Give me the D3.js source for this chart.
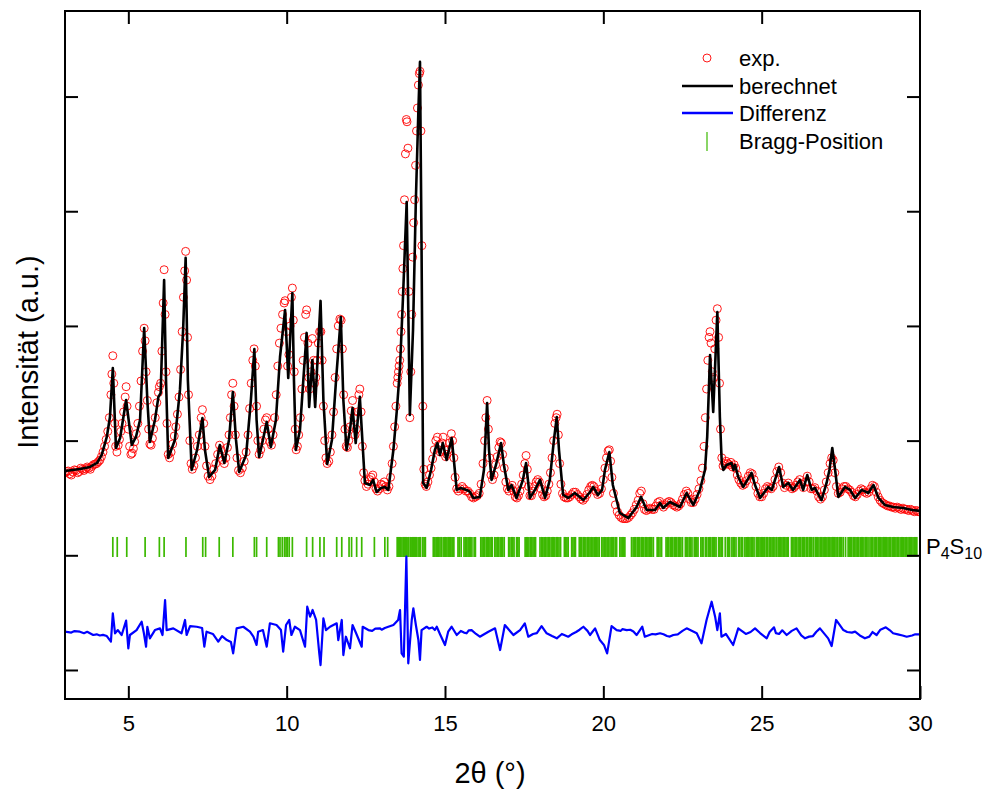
<!DOCTYPE html>
<html>
<head>
<meta charset="utf-8">
<script src="https://cdn.jsdelivr.net/npm/d3@7"></script>
<style>
  body { margin: 0; background: #fff; }
  svg { display: block; }
  text { font-family: "Liberation Sans", Arial, sans-serif; fill: #000; }
</style>
</head>
<body>
<svg id="chart" width="990" height="793"></svg>
<script>
// ---- Data: 2θ (°) vs. intensity (counts, arbitrary units) ----

// x-axis tick labels and y-axis tick values (y labels not shown)
const xTicks = [5, 10, 15, 20, 25, 30];
const yTicks = [0, 1000, 2000, 3000, 4000, 5000];

// Measured pattern (exp.)
const observed = [
  [3.00,1720],[3.05,1730],[3.10,1735],[3.15,1710],[3.20,1700],[3.25,1725],[3.30,1745],[3.35,1740],
  [3.40,1720],[3.45,1730],[3.50,1760],[3.55,1750],[3.60,1740],[3.65,1755],[3.70,1770],[3.75,1760],
  [3.80,1750],[3.85,1775],[3.90,1790],[3.95,1795],[4.00,1800],[4.05,1815],[4.10,1830],[4.15,1860],
  [4.20,1900],[4.25,1950],[4.30,2010],
  [4.35,2080],[4.40,2200],[4.45,2400],[4.48,2580],[4.51,2740],[4.54,2500],[4.57,2150],[4.60,1950],
  [4.64,1900],[4.68,1960],[4.72,2010],[4.76,2080],[4.80,2150],[4.85,2250],[4.90,2380],[4.93,2470],
  [4.96,2300],[5.00,2100],[5.04,1950],[5.08,1880],[5.12,1890],[5.16,1930],[5.20,1990],[5.25,2060],
  [5.30,2150],[5.35,2300],[5.40,2520],[5.45,2780],[5.50,2980],[5.53,2870],[5.56,2600],[5.60,2350],
  [5.64,2100],[5.68,1970],[5.72,1960],[5.76,2020],[5.80,2100],[5.85,2200],[5.90,2330],[5.95,2420],
  [5.98,2470],[6.02,2500],[6.06,2780],[6.10,3200],[6.13,3490],[6.16,3100],[6.19,2600],[6.22,2150],
  [6.26,1880],[6.30,1850],[6.35,1900],[6.40,1970],[6.45,2040],[6.50,2120],[6.55,2230],[6.60,2380],
  [6.65,2620],[6.70,2950],[6.74,3250],[6.78,3480],[6.81,3650],[6.84,3400],[6.87,2900],[6.90,2400],
  [6.94,2000],[6.98,1800],[7.02,1750],[7.07,1780],[7.12,1850],[7.18,1950],[7.24,2050],[7.30,2200],
  [7.34,2270],[7.38,2150],[7.42,1950],[7.47,1780],[7.52,1690],[7.58,1660],[7.64,1690],[7.70,1750],
  [7.76,1800],[7.82,1880],[7.88,1960],[7.93,1920],[7.98,1830],[8.03,1800],[8.08,1850],[8.13,1940],
  [8.18,2050],[8.22,2200],[8.26,2400],[8.30,2500],[8.34,2300],[8.38,2050],[8.43,1850],[8.48,1740],
  [8.54,1720],[8.60,1760],[8.66,1820],[8.72,1900],[8.78,2050],[8.83,2280],[8.88,2500],[8.93,2700],
  [8.97,2800],[9.01,2650],[9.05,2300],[9.09,2000],[9.13,1880],[9.18,1920],[9.23,2000],[9.28,2100],
  [9.33,2180],[9.37,2200],[9.42,2100],[9.47,1990],[9.52,1960],[9.57,2050],[9.62,2200],[9.67,2400],
  [9.72,2650],[9.77,2850],[9.82,2980],[9.87,3100],[9.92,3200],[9.95,3220],[9.99,2950],[10.03,2650],
  [10.07,2750],[10.11,3000],[10.15,3250],[10.18,3330],[10.21,3050],[10.24,2600],[10.27,2100],[10.30,1920],
  [10.34,1950],[10.38,2050],[10.43,2200],[10.48,2450],[10.52,2700],[10.56,2900],[10.60,3100],[10.63,3140],
  [10.67,2850],[10.70,2550],[10.73,2450],[10.77,2600],[10.81,2890],[10.85,2700],[10.88,2500],[10.92,2550],
  [10.96,2700],[11.00,2850],[11.04,2950],[11.08,2950],[11.12,2700],[11.16,2300],[11.20,2000],[11.24,1850],
  [11.28,1800],[11.33,1820],[11.38,1900],[11.43,2050],[11.48,2250],[11.53,2550],[11.58,2800],[11.63,3000],
  [11.68,3060],[11.72,3050],[11.76,2800],[11.80,2400],[11.84,2100],[11.88,1950],[11.92,1940],[11.96,2000],
  [12.00,2120],[12.04,2260],[12.08,2350],[12.12,2200],[12.16,2050],[12.20,2100],[12.24,2250],[12.28,2400],
  [12.31,2450],[12.35,2250],[12.39,1950],[12.43,1720],[12.47,1650],[12.52,1600],[12.57,1620],[12.62,1660],
  [12.67,1680],[12.72,1700],[12.77,1640],[12.82,1580],[12.87,1560],[12.93,1580],[12.98,1620],[13.03,1610],
  [13.08,1640],[13.13,1600],[13.18,1570],[13.23,1600],[13.28,1680],[13.33,1800],[13.37,1950],[13.41,2120],
  [13.45,2300],[13.49,2500],[13.51,2550],[13.53,2600],[13.55,2650],[13.57,2700],[13.59,2800],[13.61,2950],
  [13.63,3100],[13.65,3300],[13.67,3500],[13.69,3700],[13.72,4100],[13.75,4500],[13.78,4800],[13.80,4780],
  [13.83,4550],[13.86,3300],[13.89,2200],[13.92,2600],[13.95,3100],
  [13.98,3600],[14.01,3900],[14.04,4100],[14.07,4400],[14.10,4700],[14.13,4900],[14.16,5100],[14.19,5200],
  [14.21,5220],[14.24,4700],[14.27,3700],[14.30,2300],[14.33,1750],[14.37,1620],[14.41,1600],[14.46,1640],
  [14.51,1700],[14.56,1760],[14.61,1840],[14.66,1920],[14.71,2000],[14.76,2030],[14.80,1960],[14.85,1900],
  [14.90,1980],[14.94,2030],[14.98,1920],[15.02,1860],[15.06,1880],[15.10,1920],[15.15,1980],[15.20,2060],
  [15.24,2000],[15.28,1850],[15.32,1680],[15.37,1580],[15.42,1560],[15.48,1580],[15.54,1600],[15.60,1580],
  [15.66,1560],[15.72,1560],[15.78,1540],[15.84,1510],[15.90,1500],[15.96,1510],[16.02,1520],[16.08,1540],
  [16.14,1620],[16.20,1800],[16.25,2000],[16.29,2200],[16.33,2350],[16.37,2100],[16.41,1850],[16.45,1700],
  [16.50,1660],[16.55,1700],[16.60,1790],[16.65,1860],[16.70,1940],[16.74,1990],[16.78,1980],[16.82,1880],
  [16.87,1760],[16.92,1640],[16.97,1580],[17.02,1560],[17.07,1590],[17.12,1610],[17.17,1560],[17.22,1510],
  [17.27,1500],[17.32,1520],[17.37,1560],[17.42,1620],[17.47,1700],[17.52,1800],[17.56,1870],[17.60,1750],
  [17.64,1600],[17.68,1520],[17.73,1520],[17.78,1560],[17.83,1600],[17.88,1640],[17.93,1660],[17.98,1640],
  [18.03,1580],[18.08,1530],[18.13,1510],[18.18,1520],[18.23,1560],[18.28,1620],[18.33,1720],[18.38,1850],
  [18.43,2000],[18.47,2150],[18.51,2200],[18.54,2230],[18.58,2050],[18.62,1800],[18.66,1620],[18.71,1540],
  [18.76,1510],[18.82,1500],[18.88,1500],[18.94,1510],[19.00,1530],[19.06,1550],[19.12,1550],[19.18,1530],
  [19.24,1510],[19.30,1490],[19.36,1480],[19.42,1500],[19.48,1530],[19.54,1570],[19.60,1600],[19.65,1610],
  [19.70,1600],[19.76,1560],[19.82,1530],[19.88,1540],[19.94,1580],[20.00,1660],[20.05,1760],[20.10,1850],
  [20.15,1910],[20.19,1920],[20.23,1820],[20.27,1680],[20.32,1540],[20.38,1440],[20.44,1380],[20.50,1350],
  [20.56,1330],[20.62,1320],[20.68,1320],[20.74,1320],[20.80,1330],[20.86,1350],[20.92,1370],[20.98,1400],
  [21.04,1440],[21.10,1480],[21.15,1540],[21.20,1560],[21.25,1450],[21.30,1400],[21.36,1390],[21.42,1400],
  [21.48,1410],[21.54,1400],[21.60,1400],[21.66,1430],[21.72,1460],[21.78,1470],[21.84,1440],[21.90,1420],
  [21.96,1440],[22.02,1460],[22.08,1470],[22.14,1460],[22.20,1440],[22.26,1430],[22.32,1420],[22.38,1430],
  [22.44,1450],[22.50,1490],[22.56,1530],[22.62,1560],[22.67,1540],[22.72,1490],[22.78,1460],[22.84,1460],
  [22.90,1490],[22.96,1530],[23.02,1580],[23.08,1650],[23.13,1760],[23.18,1950],[23.22,2200],[23.26,2450],
  [23.30,2700],[23.34,2900],[23.37,2950],[23.40,2850],[23.44,2600],[23.48,2550],[23.52,2800],[23.56,3050],
  [23.60,3150],[23.64,2900],[23.67,2500],[23.70,2100],[23.74,1850],[23.78,1780],[23.83,1800],[23.88,1820],
  [23.93,1800],[23.98,1790],[24.03,1810],[24.08,1770],[24.13,1790],[24.18,1760],[24.23,1700],[24.28,1660],
  [24.34,1630],[24.40,1610],[24.46,1620],[24.52,1650],[24.58,1690],[24.64,1720],[24.70,1710],[24.76,1660],
  [24.82,1600],[24.88,1540],[24.94,1510],[25.00,1510],[25.06,1540],[25.12,1580],[25.18,1600],[25.24,1590],
  [25.30,1580],[25.36,1600],[25.42,1660],[25.48,1730],[25.54,1770],[25.60,1720],[25.66,1630],[25.72,1590],
  [25.78,1610],[25.84,1630],[25.90,1600],[25.96,1580],[26.02,1590],[26.08,1610],[26.14,1640],[26.20,1660],
  [26.26,1620],[26.32,1590],[26.38,1640],[26.44,1690],[26.50,1640],[26.56,1580],[26.62,1580],[26.68,1590],
  [26.74,1560],[26.80,1510],[26.86,1490],[26.92,1510],[26.98,1570],[27.04,1640],[27.10,1720],[27.16,1800],
  [27.21,1850],[27.26,1830],[27.31,1720],[27.36,1600],[27.42,1540],[27.48,1550],[27.54,1580],[27.60,1600],
  [27.66,1600],[27.72,1580],[27.78,1570],[27.84,1550],[27.90,1520],[27.96,1510],[28.02,1530],[28.08,1560],
  [28.14,1580],[28.20,1570],[28.26,1550],[28.32,1540],[28.38,1550],[28.44,1580],[28.50,1610],[28.56,1600],
  [28.62,1550],[28.68,1510],[28.74,1480],[28.80,1460],[28.86,1450],[28.92,1440],[28.98,1430],[29.04,1430],
  [29.10,1420],[29.16,1420],[29.22,1410],[29.28,1420],[29.34,1410],[29.40,1400],[29.46,1410],[29.52,1400],
  [29.58,1400],[29.64,1390],[29.70,1400],[29.76,1390],[29.82,1380],[29.88,1390],[29.94,1380],[30.00,1380]
];

// Refined profile (berechnet)
const calculated = [
  [3.00,1735],[3.47,1753],[3.79,1770],[4.01,1805],[4.16,1875],[4.32,2032],[4.42,2206],[4.51,2633],
  [4.61,1936],[4.74,2023],[4.93,2354],[5.11,1962],[5.24,2032],[5.37,2180],[5.50,2982],[5.60,2354],
  [5.68,1988],[5.84,2180],[5.95,2381],[6.02,2415],[6.13,3401],[6.19,2529],[6.26,1849],[6.47,2006],
  [6.63,2442],[6.73,2965],[6.81,3593],[6.88,2529],[7.00,1744],[7.17,1918],[7.34,2197],[7.42,1918],
  [7.55,1683],[7.74,1744],[7.89,1962],[8.03,1805],[8.18,2006],[8.30,2424],[8.40,2006],[8.50,1727],
  [8.72,1875],[8.87,2354],[8.98,2799],[9.05,2180],[9.13,1857],[9.25,2006],[9.37,2163],[9.50,1945],
  [9.66,2180],[9.79,2729],[9.95,3139],[10.05,2546],[10.18,3287],[10.23,2529],[10.29,1918],[10.42,2093],
  [10.52,2503],[10.63,2939],[10.71,2293],[10.81,2703],[10.90,2293],[10.99,2790],[11.07,3218],[11.16,2354],
  [11.28,1796],[11.43,2006],[11.56,2529],[11.71,3078],[11.79,2354],[11.89,1918],[12.00,2093],[12.08,2285],
  [12.18,1979],[12.31,2381],[12.39,2006],[12.47,1631],[12.63,1613],[12.73,1657],[12.84,1552],[12.98,1587],
  [13.10,1596],[13.21,1570],[13.37,1918],[13.48,2267],[13.58,2642],[13.67,3226],[13.79,4081],[13.85,2965],
  [13.89,2224],[13.99,2965],[14.08,4098],[14.16,4883],[14.21,5302],[14.26,3662],[14.31,1631],[14.42,1587],
  [14.56,1744],[14.68,1918],[14.76,1979],[14.84,1875],[14.93,1979],[15.05,1831],[15.21,2023],[15.28,1831],
  [15.37,1570],[15.50,1587],[15.68,1570],[15.79,1552],[15.89,1500],[16.10,1509],[16.23,1744],[16.33,2328],
  [16.39,1918],[16.47,1657],[16.61,1788],[16.77,1979],[16.86,1788],[17.00,1570],[17.10,1613],[17.26,1500],
  [17.46,1657],[17.56,1805],[17.68,1500],[17.84,1570],[18.00,1657],[18.16,1500],[18.31,1657],[18.44,2006],
  [18.53,2206],[18.60,1918],[18.73,1526],[18.89,1500],[19.10,1543],[19.37,1482],[19.58,1552],[19.68,1596],
  [19.83,1526],[19.96,1570],[20.05,1744],[20.19,1901],[20.30,1613],[20.52,1369],[20.79,1325],[21.05,1421],
  [21.19,1509],[21.37,1395],[21.63,1395],[21.79,1456],[21.89,1413],[22.10,1465],[22.42,1421],[22.63,1543],
  [22.84,1439],[23.05,1570],[23.21,1744],[23.28,2032],[23.37,2747],[23.47,2250],[23.60,3122],[23.68,2206],
  [23.74,1805],[23.79,1744],[23.89,1788],[24.05,1805],[24.11,1744],[24.16,1788],[24.26,1683],[24.42,1596],
  [24.68,1718],[24.79,1613],[24.95,1500],[25.21,1596],[25.32,1570],[25.55,1770],[25.68,1596],[25.84,1631],
  [25.99,1570],[26.21,1657],[26.31,1570],[26.44,1700],[26.58,1570],[26.68,1587],[26.89,1482],[27.05,1631],
  [27.14,1744],[27.23,1936],[27.32,1744],[27.42,1509],[27.63,1596],[27.79,1570],[27.95,1500],[28.16,1570],
  [28.37,1543],[28.53,1613],[28.69,1500],[28.89,1439],[29.15,1421],[29.47,1413],[29.75,1395],[30.00,1387]
];

// Difference curve (exp. − berechnet), drawn shifted by diffOffset
const difference = [
  [3.00,3],[3.20,-5],[3.30,8],[3.47,3],[3.60,-10],[3.70,2],[3.89,-26],[4.00,-20],[4.10,-30],[4.20,-25],
  [4.32,-35],[4.45,-84],[4.51,163],[4.58,-11],[4.67,17],[4.79,-26],[4.93,99],
  [5.00,-142],[5.05,-26],[5.26,17],[5.42,90],[5.49,-9],[5.56,-128],[5.60,46],[5.68,-55],[5.84,17],[6.00,32],
  [6.08,-26],[6.16,279],[6.21,17],[6.42,32],[6.68,-11],[6.79,105],[6.84,-26],[6.95,52],[7.16,46],[7.33,35],
  [7.40,-128],[7.47,3],[7.67,-17],[7.84,-84],[7.96,-35],[8.11,-70],[8.24,-87],[8.31,-186],[8.42,32],[8.63,46],
  [8.84,3],[8.95,-41],[9.05,-113],[9.10,3],[9.25,17],[9.37,-128],[9.47,76],[9.68,61],[9.82,17],[9.89,-172],
  [9.98,61],[10.08,105],[10.15,-26],[10.26,46],[10.42,17],[10.58,-128],[10.65,221],[10.74,134],[10.82,192],[10.93,105],
  [11.03,-186],[11.07,-288],[11.16,119],[11.24,17],[11.37,46],[11.58,76],[11.63,-70],[11.74,105],[11.79,-201],[11.87,-41],
  [12.00,-142],[12.08,61],[12.19,-9],[12.37,-128],[12.40,46],[12.58,17],[12.70,10],[12.80,30],[12.95,32],[13.00,20],
  [13.10,35],[13.21,46],[13.37,61],[13.52,105],
  [13.58,192],[13.63,-186],[13.70,-215],[13.78,657],[13.84,-273],[13.95,105],[14.00,207],[14.08,61],[14.16,-70],[14.21,-244],
  [14.26,17],[14.42,46],[14.50,30],[14.60,40],[14.68,17],[14.74,46],[14.84,-17],[15.00,-113],[15.10,3],[15.21,46],[15.37,-26],[15.50,9],
  [15.60,-5],[15.68,-11],[15.75,15],[15.84,17],[15.98,-17],[16.10,-41],[16.37,3],[16.58,32],[16.74,-157],[16.89,61],[17.16,-26],[17.37,17],
  [17.52,76],[17.63,-41],[17.78,-17],[17.90,-9],[18.05,52],[18.21,-11],[18.38,-35],[18.53,-55],[18.69,-17],[18.89,-41],
  [19.00,-20],[19.14,0],[19.25,20],[19.37,46],[19.50,10],[19.58,-26],[19.74,32],[19.89,-70],[20.02,-113],[20.12,-186],[20.26,52],[20.42,17],
  [20.55,10],[20.60,25],[20.74,17],[20.85,20],[20.95,5],
  [21.05,-26],[21.23,46],[21.31,-41],[21.54,-17],[21.65,-20],[21.79,-11],[21.90,-20],[22.01,-35],[22.10,-40],[22.21,-26],
  [22.35,-20],[22.50,10],[22.63,32],[22.95,-11],[23.10,-99],
  [23.26,105],[23.33,174],[23.42,264],[23.53,134],[23.60,17],[23.68,163],[23.73,-41],[23.87,-17],[24.10,-113],[24.26,32],
  [24.50,-17],[24.65,0],[24.79,32],[24.95,-9],[25.00,-20],[25.16,-55],[25.25,0],[25.39,41],[25.45,-10],[25.55,-17],
  [25.65,15],[25.79,-26],[25.95,10],[26.10,32],[26.25,-30],[26.37,-55],[26.50,-40],[26.62,-35],[26.72,0],
  [26.84,32],[27.10,-55],[27.21,-122],[27.35,105],[27.58,17],[27.70,0],[27.85,-5],[27.95,3],[28.10,-30],[28.26,-55],
  [28.40,-40],[28.50,0],[28.63,-26],[28.75,20],[28.92,41],[29.05,15],[29.15,-11],[29.30,-20],[29.45,-30],
  [29.58,-41],[29.75,-30],[29.85,-20],[30.00,-20]
];
const diffOffset = 331;

// Reflection positions of P4S10 (Bragg-Position)
const braggPositions = [
  4.51,4.65,4.95,5.53,5.98,6.13,6.82,7.35,7.44,7.87,8.30,8.98,9.05,9.37,
  9.74,9.79,9.86,9.93,9.98,10.02,10.08,10.18,10.63,10.82,11.05,11.18,11.58,11.74,11.97,12.05,12.21,12.37,
  12.77,13.10,13.19,
  13.49,13.53,13.57,13.60,13.64,13.68,13.72,13.75,13.79,13.83,13.85,
  13.90,13.93,13.97,14.00,14.04,14.07,14.10,14.15,14.19,14.23,14.30,14.34,14.38,
  14.63,14.68,14.72,14.76,14.79,14.84,14.88,14.94,
  14.98,15.02,15.06,15.10,15.14,15.18,15.22,15.25,15.28,15.41,15.45,15.51,
  15.60,15.64,15.69,15.73,15.77,15.81,15.85,15.92,15.96,
  16.13,16.17,16.21,16.25,16.30,16.34,16.38,16.42,16.46,16.49,
  16.57,16.61,16.65,16.69,16.74,16.78,16.82,16.87,17.01,17.05,17.10,17.14,17.18,17.26,17.30,17.34,
  17.53,17.57,17.61,17.65,17.70,17.74,17.78,17.82,17.86,
  18.00,18.05,18.09,18.13,18.17,18.22,18.26,18.30,18.35,18.39,18.43,18.47,18.52,18.56,18.60,18.65,
  18.77,18.81,18.85,18.89,19.00,19.04,19.08,19.12,
  19.24,19.28,19.32,19.37,19.41,19.45,19.50,19.54,19.58,19.62,19.67,19.71,19.75,19.79,19.83,19.87,
  19.95,19.99,20.03,20.08,20.12,20.16,20.21,20.25,20.29,20.33,20.38,20.42,20.52,20.56,20.60,20.64,20.68,
  20.89,20.94,20.98,21.02,21.07,21.11,21.15,21.20,21.24,21.28,21.33,21.37,21.41,21.45,21.49,21.53,21.58,
  21.70,21.74,21.79,21.84,
  21.98,22.02,22.06,22.11,22.15,22.19,22.24,22.28,22.32,22.37,22.41,22.45,22.50,22.59,22.63,22.67,
  22.72,22.76,22.80,22.87,22.91,22.95,22.99,23.08,23.12,23.15,23.22,23.25,
  23.31,23.35,23.39,23.44,23.48,23.52,23.56,23.64,23.68,23.72,23.76,23.85,23.92,23.96,23.99,
  24.06,24.10,24.14,24.19,24.27,24.31,24.36,24.40,24.47,24.51,24.55,24.59,
  24.63,24.67,24.72,24.76,24.83,24.87,24.91,24.95,24.99,25.03,25.07,25.10,25.15,25.19,25.24,
  25.29,25.33,25.38,25.42,25.47,25.52,25.56,25.60,25.64,25.68,25.73,25.77,25.81,25.84,
  25.94,25.98,26.02,26.06,26.10,26.15,26.19,26.23,26.28,26.32,26.36,26.41,26.45,26.50,26.54,26.58,26.63,
  26.69,26.73,26.77,26.81,26.86,26.90,26.94,26.98,27.02,27.06,27.10,27.15,27.19,27.23,27.26,
  27.31,27.35,27.40,27.45,27.49,27.53,27.58,27.65,27.73,27.77,27.81,27.84,27.89,
  27.94,27.98,28.02,28.06,28.11,28.15,28.19,28.23,28.28,28.32,28.36,28.42,28.46,28.50,28.55,28.59,28.63,
  28.68,28.72,28.76,28.80,28.84,28.87,28.91,28.95,28.99,29.03,29.07,29.12,29.16,29.20,29.24,29.28,29.32,
  29.37,29.41,29.45,29.49,29.53,29.57,29.62,29.66,29.70,29.74,29.78,29.82,29.86,29.90
];
const braggRange = [985, 1160];   // vertical extent of the reflection markers (counts)

const legendItems = ["exp.", "berechnet", "Differenz", "Bragg-Position"];

// ---- Layout ----
const svg = d3.select("#chart");
const plot = { left: 65, right: 920, top: 11, bottom: 699 };

const x = d3.scaleLinear().domain([3, 30]).range([plot.left, plot.right]);
const y = d3.scaleLinear().domain([-253, 5746]).range([plot.bottom, plot.top]);

const colors = { obs: "#ff0000", calc: "#000000", diff: "#0000ff", bragg: "#3cb900" };

svg.append("defs").append("clipPath").attr("id", "plotClip")
  .append("rect")
  .attr("x", plot.left).attr("y", plot.top)
  .attr("width", plot.right - plot.left).attr("height", plot.bottom - plot.top);

const g = svg.append("g").attr("clip-path", "url(#plotClip)");

// Bragg reflection markers
g.append("g").selectAll("line").data(braggPositions).join("line")
  .attr("x1", d => x(d)).attr("x2", d => x(d))
  .attr("y1", y(braggRange[0])).attr("y2", y(braggRange[1]))
  .attr("stroke", colors.bragg).attr("stroke-width", 1.7);

// Difference curve
g.append("path").datum(difference)
  .attr("fill", "none").attr("stroke", colors.diff).attr("stroke-width", 2.2)
  .attr("stroke-linejoin", "round")
  .attr("d", d3.line().x(d => x(d[0])).y(d => y(d[1] + diffOffset)));

// Observed points as open circles
g.append("g").selectAll("circle").data(observed).join("circle")
  .attr("cx", d => x(d[0])).attr("cy", d => y(d[1])).attr("r", 4)
  .attr("fill", "none").attr("stroke", colors.obs).attr("stroke-width", 0.9);

// Calculated profile
g.append("path").datum(calculated)
  .attr("fill", "none").attr("stroke", colors.calc).attr("stroke-width", 2.6)
  .attr("stroke-linejoin", "round")
  .attr("d", d3.line().x(d => x(d[0])).y(d => y(d[1])));

// ---- Axes (ticks pointing inward on all four sides) ----
function styleAxis(sel) {
  sel.select(".domain").remove();
  sel.selectAll(".tick line").attr("stroke", "#000").attr("stroke-width", 2);
}

svg.append("g").attr("transform", `translate(0,${plot.bottom})`)
  .call(d3.axisBottom(x).tickValues(xTicks).tickSize(-13).tickPadding(16).tickFormat(d3.format("d")))
  .call(styleAxis)
  .call(s => s.selectAll(".tick text").attr("font-size", 22)
    .attr("font-family", "'Liberation Sans', Arial, sans-serif").attr("fill", "#000"));

svg.append("g").attr("transform", `translate(0,${plot.top})`)
  .call(d3.axisTop(x).tickValues(xTicks.slice(0, -1)).tickSize(-13).tickFormat(""))
  .call(styleAxis);

svg.append("g").attr("transform", `translate(${plot.left},0)`)
  .call(d3.axisLeft(y).tickValues(yTicks).tickSize(-13).tickFormat(""))
  .call(styleAxis);

svg.append("g").attr("transform", `translate(${plot.right},0)`)
  .call(d3.axisRight(y).tickValues(yTicks).tickSize(-13).tickFormat(""))
  .call(styleAxis);

// Frame
svg.append("rect")
  .attr("x", plot.left).attr("y", plot.top)
  .attr("width", plot.right - plot.left).attr("height", plot.bottom - plot.top)
  .attr("fill", "none").attr("stroke", "#000").attr("stroke-width", 2);

// Axis titles
svg.append("text")
  .attr("x", 490).attr("y", 783)
  .attr("text-anchor", "middle").attr("font-size", 29)
  .text("2θ (°)");

svg.append("text")
  .attr("transform", `translate(38,352) rotate(-90)`)
  .attr("text-anchor", "middle").attr("font-size", 29)
  .text("Intensität (a.u.)");

// Phase label next to the reflection markers
const phase = svg.append("text")
  .attr("x", 926).attr("y", 554).attr("font-size", 22);
phase.append("tspan").text("P");
phase.append("tspan").attr("font-size", 16).attr("dy", 5).text("4");
phase.append("tspan").attr("dy", -5).text("S");
phase.append("tspan").attr("font-size", 16).attr("dy", 5).text("10");

// Legend
const legend = svg.append("g");
const rowY = [58, 86, 113, 141];
legendItems.forEach((label, i) => {
  const ry = rowY[i];
  if (i === 0) {
    legend.append("circle").attr("cx", 707).attr("cy", ry).attr("r", 4)
      .attr("fill", "none").attr("stroke", colors.obs).attr("stroke-width", 0.9);
  } else if (i === 1 || i === 2) {
    legend.append("line").attr("x1", 682).attr("x2", 733).attr("y1", ry).attr("y2", ry)
      .attr("stroke", i === 1 ? colors.calc : colors.diff).attr("stroke-width", 2.4);
  } else {
    legend.append("line").attr("x1", 707).attr("x2", 707).attr("y1", ry - 9).attr("y2", ry + 10)
      .attr("stroke", colors.bragg).attr("stroke-width", 1.2);
  }
  legend.append("text").attr("x", 739).attr("y", ry + 8).attr("font-size", 22).text(label);
});
</script>
</body>
</html>
